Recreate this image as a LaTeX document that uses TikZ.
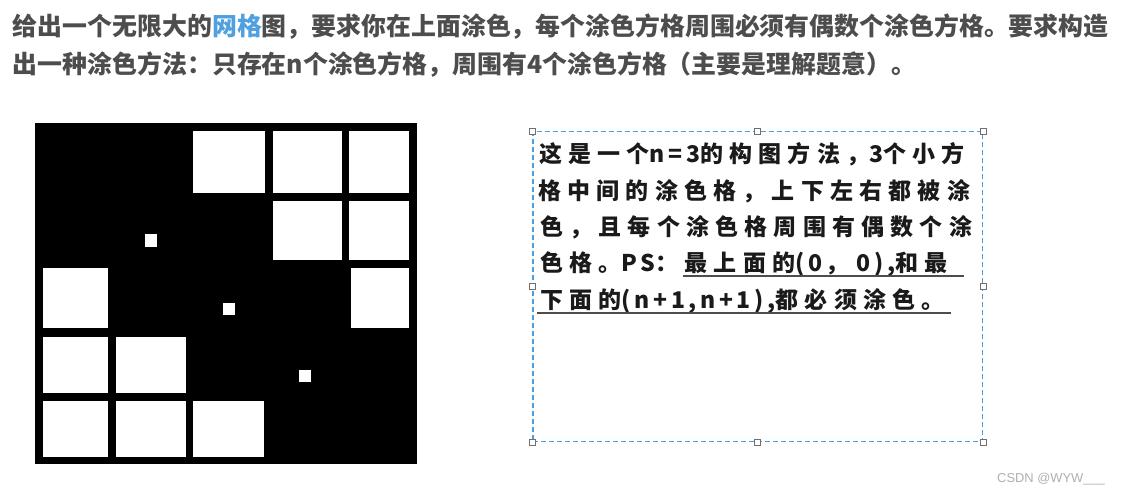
\documentclass[tikz,border=0pt]{standalone}
\usepackage{fontspec}
\newfontfamily\cjk{Noto Sans CJK SC}
\newfontfamily\cjkls[LetterSpace=27]{Noto Sans CJK SC}
\newfontfamily\cjklat[LetterSpace=16]{Noto Sans CJK SC}
\newcommand{\lt}[1]{{\cjklat\bfseries #1}}
\setsansfont{Liberation Sans}
\definecolor{headgray}{HTML}{4D4D4D}
\definecolor{linkblue}{HTML}{4FA0E0}
\definecolor{boxblue}{HTML}{4A9DE0}
\definecolor{handlegray}{HTML}{707070}
\definecolor{markgray}{HTML}{B0B0B0}
\definecolor{txtdark}{HTML}{1A1A1A}
\begin{document}
\begin{tikzpicture}[x=1pt,y=-1pt,
  heading/.style={anchor=base west,inner sep=0pt,text=headgray,font=\cjk\bfseries\fontsize{24.9}{30}\selectfont},
  boxtext/.style={anchor=base west,inner sep=0pt,text=txtdark,font=\cjkls\bfseries\fontsize{23}{28}\selectfont},
  cell/.style={fill=white},
  boxdash/.style={draw=boxblue,dash pattern=on 5pt off 3pt,line width=1.4pt,inner sep=0pt},
  handle/.style={draw=handlegray,fill=white,line width=0.8pt,minimum size=6pt,inner sep=0pt},
  uline/.style={draw=headgray,line width=1.8pt}]
\useasboundingbox (0,0) rectangle (1132,496);
\fill[white] (0,0) rectangle (1132,496);

% heading
\node[heading] (h1) at (12.7,35) {给出一个无限大的\textcolor{linkblue}{网格}图，要求你在上面涂色，每个涂色方格周围必须有偶数个涂色方格。要求构造};
\node[heading] (h2) at (12.7,73) {出一种涂色方法：只存在n个涂色方格，周围有4个涂色方格（主要是理解题意）。};

% grid picture
\fill[black] (35,123) rectangle (417,464);
\fill[cell] (193.3,130.7) rectangle (265.3,193.3);
\fill[cell] (272.7,130.7) rectangle (341.7,193.3);
\fill[cell] (349.3,130.7) rectangle (409,193.3);
\fill[cell] (272.7,200.7) rectangle (341.7,260);
\fill[cell] (349.3,200.7) rectangle (409,260);
\fill[cell] (42.7,268.3) rectangle (108.3,328.3);
\fill[cell] (350.5,268.3) rectangle (409,328.3);
\fill[cell] (42.7,336.7) rectangle (108.3,392.7);
\fill[cell] (116,336.7) rectangle (186,392.7);
\fill[cell] (42.7,400.7) rectangle (108.3,456.7);
\fill[cell] (116,400.7) rectangle (186,456.7);
\fill[cell] (193.3,400.7) rectangle (264,456.7);
\fill[cell] (145,234.3) rectangle (157,246.7);
\fill[cell] (222.7,303.3) rectangle (235,315.3);
\fill[cell] (299.3,370) rectangle (311,382.3);

% text box
\node[boxdash,minimum width=449.4pt,minimum height=310pt,anchor=north west] (tbox) at (532.3,131) {};
\foreach \a in {north west,north,north east,west,east,south west,south,south east}
  \node[handle] at (tbox.\a) {};

\node[boxtext] (t1) at (539,162.5) {这是一个\lt{n=3}的构图方法，\lt{3}个小方};
\node[boxtext] (t2) at (538,199.1) {格中间的涂色格，上下左右都被涂};
\node[boxtext] (t3) at (540,235.8) {色，且每个涂色格周围有偶数个涂};
\node[boxtext] (t4) at (540,271.3) {色格。\lt{PS}：最上面的\lt{(0，\hspace{8pt}0),}和最};
\node[boxtext] (t5) at (540,308.3) {下面的\lt{(n+1,n+1),}都必须涂色。};
\draw[uline] (683,275.7) -- (964,275.7);
\draw[uline] (537,312.7) -- (950.7,312.7);

% watermark
\node[anchor=base west,inner sep=0pt,text=markgray,font=\sffamily\fontsize{12.9}{15}\selectfont] (wm) at (997,482) {CSDN @WYW\_\_\_};
\end{tikzpicture}
\end{document}
